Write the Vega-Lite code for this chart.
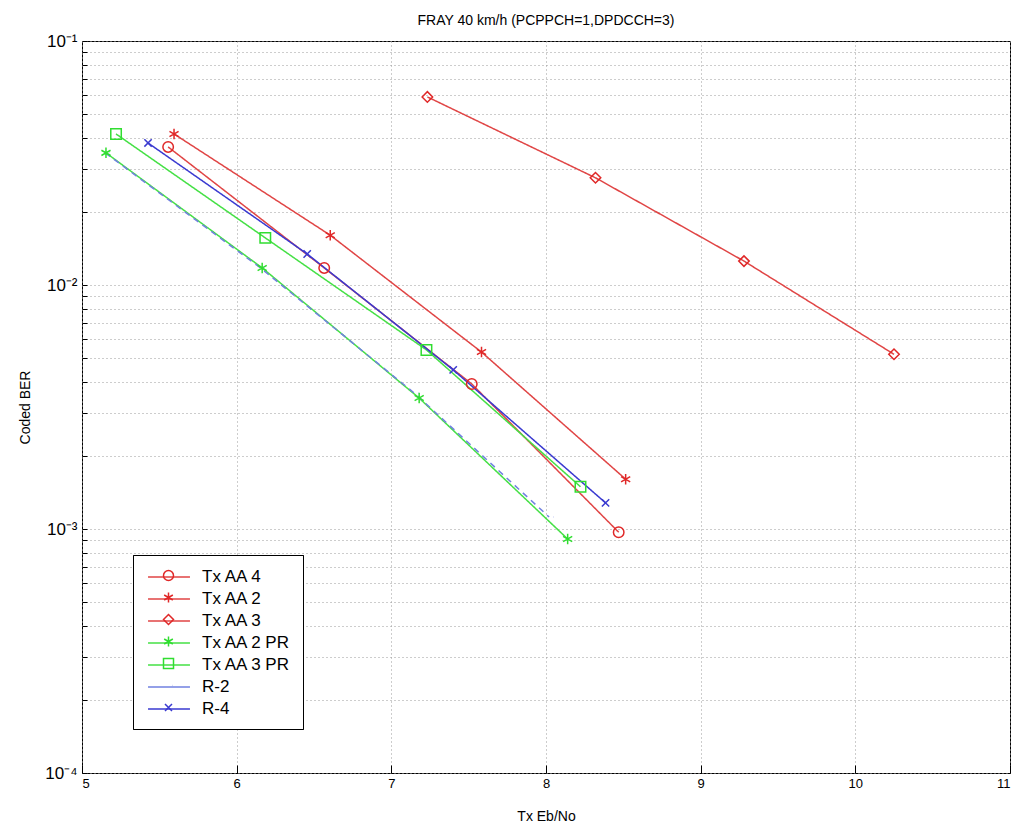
{
  "$schema": "https://vega.github.io/schema/vega-lite/v6.json",
  "width": 928,
  "height": 732,
  "autosize": {"type": "none"},
  "padding": {"left": 82, "top": 41, "right": 14, "bottom": 57},
  "background": "white",
  "config": {
    "font": "Liberation Sans",
    "view": {"stroke": "black", "strokeWidth": 1},
    "axis": {"domain": false, "labelFontSize": 13, "titleFontSize": 14, "titleFontWeight": "normal", "labelColor": "black", "titleColor": "black", "tickColor": "black", "gridColor": "#9a9a9a", "gridDash": [1, 3], "gridWidth": 1}
  },
  "title": {"text": "FRAY 40 km/h (PCPPCH=1,DPDCCH=3)", "fontSize": 14, "fontWeight": "normal", "offset": 4, "color": "black"},
  "data": {"values": [
    {"series": "Tx AA 4", "x": 5.557, "y": 0.0368},
    {"series": "Tx AA 4", "x": 6.566, "y": 0.01175},
    {"series": "Tx AA 4", "x": 7.52, "y": 0.00393},
    {"series": "Tx AA 4", "x": 8.47, "y": 0.00097},
    {"series": "Tx AA 2", "x": 5.595, "y": 0.0416},
    {"series": "Tx AA 2", "x": 6.605, "y": 0.016},
    {"series": "Tx AA 2", "x": 7.583, "y": 0.00531},
    {"series": "Tx AA 2", "x": 8.515, "y": 0.0016},
    {"series": "Tx AA 3", "x": 7.233, "y": 0.059},
    {"series": "Tx AA 3", "x": 8.32, "y": 0.0275},
    {"series": "Tx AA 3", "x": 9.28, "y": 0.01253},
    {"series": "Tx AA 3", "x": 10.25, "y": 0.0052},
    {"series": "Tx AA 2 PR", "x": 5.155, "y": 0.0348},
    {"series": "Tx AA 2 PR", "x": 6.165, "y": 0.01175},
    {"series": "Tx AA 2 PR", "x": 7.18, "y": 0.00344},
    {"series": "Tx AA 2 PR", "x": 8.14, "y": 0.00091},
    {"series": "Tx AA 3 PR", "x": 5.22, "y": 0.0416},
    {"series": "Tx AA 3 PR", "x": 6.185, "y": 0.0156},
    {"series": "Tx AA 3 PR", "x": 7.227, "y": 0.00542},
    {"series": "Tx AA 3 PR", "x": 8.223, "y": 0.00149},
    {"series": "R-2", "x": 5.15, "y": 0.0348},
    {"series": "R-2", "x": 6.15, "y": 0.0118},
    {"series": "R-2", "x": 7.15, "y": 0.0036},
    {"series": "R-2", "x": 8.02, "y": 0.00112},
    {"series": "R-4", "x": 5.427, "y": 0.0382},
    {"series": "R-4", "x": 6.456, "y": 0.0134},
    {"series": "R-4", "x": 7.4, "y": 0.00449},
    {"series": "R-4", "x": 8.385, "y": 0.00128}
  ]},
  "encoding": {
    "x": {"field": "x", "type": "quantitative", "scale": {"domain": [5, 11], "nice": false, "zero": false},
      "axis": {"title": "Tx Eb/No", "values": [5, 6, 7, 8, 9, 10, 11], "format": "d", "tickSize": -8, "labelPadding": 12, "titlePadding": 19}},
    "y": {"field": "y", "type": "quantitative", "scale": {"type": "log", "domain": [0.0001, 0.1], "nice": false},
      "axis": {"title": "Coded BER", "values": [0.0001, 0.0002, 0.0003, 0.0004, 0.0005, 0.0006, 0.0007, 0.0008, 0.0009, 0.001, 0.002, 0.003, 0.004, 0.005, 0.006, 0.007, 0.008, 0.009, 0.01, 0.02, 0.03, 0.04, 0.05, 0.06, 0.07, 0.08, 0.09, 0.1],
        "labelExpr": "datum.value == 0.1 ? '10⁻¹' : datum.value == 0.01 ? '10⁻²' : datum.value == 0.001 ? '10⁻³' : datum.value == 0.0001 ? '10⁻⁴' : ''",
        "labelFontSize": 17, "tickSize": -5, "labelPadding": 10, "titlePadding": 12}}
  },
  "layer": [
    {
      "mark": {"type": "line", "strokeWidth": 1.5},
      "encoding": {
        "color": {"field": "series", "type": "nominal",
          "scale": {"domain": ["Tx AA 4", "Tx AA 2", "Tx AA 3", "Tx AA 2 PR", "Tx AA 3 PR", "R-2", "R-4"],
            "range": ["#e04545", "#e04545", "#e04545", "#45e045", "#45e045", "#7080e0", "#3a3ad0"]},
          "legend": {"title": null, "orient": "none", "legendX": 51, "legendY": 514, "padding": 12, "strokeColor": "black", "fillColor": "white", "labelFontSize": 17, "labelColor": "black", "symbolType": "M-2.33,0L2.33,0", "symbolSize": 324, "symbolStrokeWidth": 1.5, "rowPadding": 4, "symbolOffset": 14, "labelOffset": 23, "symbolFillColor": "transparent"}},
        "strokeDash": {"field": "series", "type": "nominal", "scale": {"domain": ["Tx AA 4", "Tx AA 2", "Tx AA 3", "Tx AA 2 PR", "Tx AA 3 PR", "R-2", "R-4"], "range": [[1, 0], [1, 0], [1, 0], [1, 0], [1, 0], [6, 5], [1, 0]]},
          "legend": {"title": null, "orient": "none", "legendX": 51, "legendY": 514, "padding": 12, "strokeColor": "black", "fillColor": "white", "labelFontSize": 17, "labelColor": "black", "symbolType": "M-2.33,0L2.33,0", "symbolSize": 324, "symbolStrokeWidth": 1.5, "rowPadding": 4, "symbolOffset": 14, "labelOffset": 23, "symbolFillColor": "transparent"}}
      }
    },
    {
      "mark": {"type": "point", "filled": false, "size": 110, "strokeWidth": 1.5, "opacity": 1},
      "encoding": {
        "color": {"field": "series", "type": "nominal",
          "scale": {"domain": ["R-4", "R-2", "Tx AA 3 PR", "Tx AA 2 PR", "Tx AA 3", "Tx AA 2", "Tx AA 4"],
            "range": ["#3a3ad0", "#7080e0", "#30dd30", "#30dd30", "#e02828", "#e02828", "#e02828"]},
          "legend": {"title": null, "orient": "none", "legendX": 51, "legendY": 514, "padding": 12, "strokeColor": "transparent", "fillColor": "transparent", "labelFontSize": 17, "labelColor": "transparent", "symbolSize": 100, "symbolStrokeWidth": 1.5, "rowPadding": 4, "symbolOffset": 15, "labelOffset": 23, "symbolFillColor": "transparent",
            "values": ["Tx AA 4", "Tx AA 2", "Tx AA 3", "Tx AA 2 PR", "Tx AA 3 PR", "R-2", "R-4"]}},
        "shape": {"field": "series", "type": "nominal",
          "scale": {"domain": ["R-4", "R-2", "Tx AA 3 PR", "Tx AA 2 PR", "Tx AA 3", "Tx AA 2", "Tx AA 4"],
            "range": ["M-0.7,-0.7L0.7,0.7M-0.7,0.7L0.7,-0.7", "M0.75,0L0.8,0", "square", "M0,-1L0,1M-0.87,-0.5L0.87,0.5M-0.87,0.5L0.87,-0.5", "diamond", "M0,-1L0,1M-0.87,-0.5L0.87,0.5M-0.87,0.5L0.87,-0.5", "circle"]},
          "legend": {"title": null, "orient": "none", "legendX": 51, "legendY": 514, "padding": 12, "strokeColor": "transparent", "fillColor": "transparent", "labelFontSize": 17, "labelColor": "transparent", "symbolSize": 100, "symbolStrokeWidth": 1.5, "rowPadding": 4, "symbolOffset": 15, "labelOffset": 23, "symbolFillColor": "transparent",
            "values": ["Tx AA 4", "Tx AA 2", "Tx AA 3", "Tx AA 2 PR", "Tx AA 3 PR", "R-2", "R-4"]}}
      }
    }
  ],
  "resolve": {"scale": {"color": "independent", "shape": "independent"}, "legend": {"color": "independent", "shape": "independent"}}
}
